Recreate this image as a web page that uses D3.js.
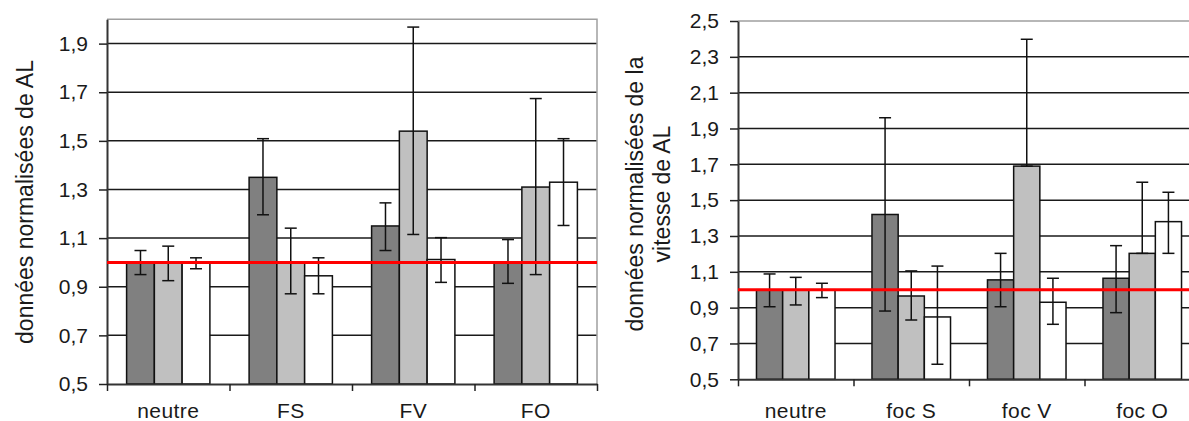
<!DOCTYPE html>
<html>
<head>
<meta charset="utf-8">
<script src="https://cdn.jsdelivr.net/npm/d3@7"></script>
<style>
    body { margin: 0; background: #fff; }
    svg { display: block; font-family: Arial, "Liberation Sans", sans-serif; }
</style>
</head>
<body>
<script>
// values (dark / light / white series)

var leftCategories = ["neutre", "FS", "FV", "FO"];
var leftDark = [1.0, 1.35, 1.15, 1.0];
var leftLight = [1.0, 1.0, 1.54, 1.31];
var leftWhite = [1.0, 0.945, 1.012, 1.33];
var leftDarkLow = [0.95, 1.196, 1.049, 0.914];
var leftDarkHigh = [1.049, 1.509, 1.245, 1.094];
var leftLightLow = [0.925, 0.871, 1.115, 0.95];
var leftLightHigh = [1.067, 1.141, 1.968, 1.674];
var leftWhiteLow = [0.974, 0.871, 0.918, 1.152];
var leftWhiteHigh = [1.019, 1.019, 1.102, 1.509];
var leftTicks = [0.5, 0.7, 0.9, 1.1, 1.3, 1.5, 1.7, 1.9];

var rightCategories = ["neutre", "foc S", "foc V", "foc O"];
var rightDark = [1.0, 1.42, 1.055, 1.064];
var rightLight = [1.0, 0.965, 1.69, 1.203];
var rightWhite = [1.0, 0.848, 0.93, 1.38];
var rightDarkLow = [0.905, 0.881, 0.905, 0.872];
var rightDarkHigh = [1.088, 1.96, 1.203, 1.246];
var rightLightLow = [0.915, 0.831, 1.69, 1.203];
var rightLightHigh = [1.069, 1.105, 2.398, 1.6];
var rightWhiteLow = [0.956, 0.584, 0.807, 1.203];
var rightWhiteHigh = [1.036, 1.132, 1.064, 1.544];
var rightTicks = [0.5, 0.7, 0.9, 1.1, 1.3, 1.5, 1.7, 1.9, 2.1, 2.3, 2.5];

var referenceValue = 1.0;
var seriesColors = ["#808080", "#c0c0c0", "#ffffff"];

var svg = d3.select("body").append("svg")
    .attr("width", 1189)
    .attr("height", 421);

var fmt = function(d) {
    return d.toFixed(1).replace(".", ",");
};

function drawChart(opt) {
    var x = d3.scaleBand()
        .domain(opt.categories)
        .range(opt.xRange);

    // inner scale for the three bars of a group
    var xs = d3.scaleBand()
        .domain(d3.range(opt.series.length))
        .range([x.bandwidth() * 0.16, x.bandwidth() * 0.84]);

    var y = d3.scaleLinear()
        .domain(opt.domain)
        .range(opt.yRange);

    var g = svg.append("g");
    var x0 = opt.xRange[0], x1 = opt.xRange[1];
    var yTop = y(opt.domain[1]), yBottom = y(opt.domain[0]);

    // gridlines
    g.selectAll(".grid")
        .data(opt.ticks.filter(function(t) { return t > opt.domain[0] && t < opt.domain[1]; }))
        .enter().append("line")
        .attr("class", "grid")
        .attr("x1", x0)
        .attr("x2", x1)
        .attr("y1", function(d) { return y(d); })
        .attr("y2", function(d) { return y(d); })
        .style("stroke", "#1a1a1a")
        .style("stroke-width", 1.5);

    // plot area border (top / right)
    g.append("path")
        .attr("d", "M" + x0 + "," + yTop + "H" + x1 + "V" + yBottom)
        .style("fill", "none")
        .style("stroke", "#a0a0a0")
        .style("stroke-width", 1.5);

    // bars
    opt.series.forEach(function(s, i) {
        g.selectAll(".bar" + i)
            .data(opt.categories)
            .enter().append("rect")
            .attr("class", "bar" + i)
            .attr("x", function(d) { return x(d) + xs(i); })
            .attr("y", function(d, j) { return y(s.values[j]); })
            .attr("width", xs.bandwidth())
            .attr("height", function(d, j) { return yBottom - y(s.values[j]); })
            .style("fill", seriesColors[i])
            .style("stroke", "#111")
            .style("stroke-width", 1.5);
    });

    // error bars
    opt.series.forEach(function(s, i) {
        var cx = function(d) { return x(d) + xs(i) + xs.bandwidth() / 2; };
        var eb = g.selectAll(".err" + i)
            .data(opt.categories)
            .enter().append("g")
            .attr("class", "err" + i)
            .style("stroke", "#111")
            .style("stroke-width", 1.5);
        eb.append("line")
            .attr("x1", cx).attr("x2", cx)
            .attr("y1", function(d, j) { return y(s.high[j]); })
            .attr("y2", function(d, j) { return y(s.low[j]); });
        eb.append("line")
            .attr("x1", function(d) { return cx(d) - 6; })
            .attr("x2", function(d) { return cx(d) + 6; })
            .attr("y1", function(d, j) { return y(s.high[j]); })
            .attr("y2", function(d, j) { return y(s.high[j]); });
        eb.append("line")
            .attr("x1", function(d) { return cx(d) - 6; })
            .attr("x2", function(d) { return cx(d) + 6; })
            .attr("y1", function(d, j) { return y(s.low[j]); })
            .attr("y2", function(d, j) { return y(s.low[j]); });
    });

    // y axis
    var yAxis = g.append("g")
        .attr("transform", "translate(" + x0 + ",0)")
        .call(d3.axisLeft(y)
            .tickValues(opt.ticks)
            .tickSize(8)
            .tickSizeOuter(0)
            .tickPadding(11)
            .tickFormat(fmt));
    yAxis.select(".domain").style("stroke", "#333").style("stroke-width", 2);
    yAxis.selectAll(".tick line").style("stroke", "#222").style("stroke-width", 1.5);
    yAxis.selectAll("text")
        .style("font-size", "21px")
        .style("font-family", "Arial, 'Liberation Sans', sans-serif")
        .style("fill", "#1a1a1a");

    // x axis: ticks between the groups
    var xb = d3.scaleLinear()
        .domain([0, opt.categories.length])
        .range(opt.xRange);
    var xAxis = g.append("g")
        .attr("transform", "translate(0," + yBottom + ")")
        .call(d3.axisBottom(xb)
            .tickValues(d3.range(opt.categories.length + 1))
            .tickSize(7)
            .tickSizeOuter(0)
            .tickFormat(""));
    xAxis.select(".domain").style("stroke", "#333").style("stroke-width", 2);
    xAxis.selectAll(".tick line").style("stroke", "#222").style("stroke-width", 1.5);

    g.selectAll(".xlabel")
        .data(opt.categories)
        .enter().append("text")
        .attr("class", "xlabel")
        .attr("x", function(d) { return x(d) + x.bandwidth() / 2; })
        .attr("y", 418)
        .style("text-anchor", "middle")
        .style("font-size", "21px")
        .style("letter-spacing", "0.4px")
        .style("fill", "#1a1a1a")
        .text(function(d) { return d; });

    // reference line at 1
    g.append("line")
        .attr("x1", x0)
        .attr("x2", x1)
        .attr("y1", y(referenceValue))
        .attr("y2", y(referenceValue))
        .style("stroke", "#ff0000")
        .style("stroke-width", 3);

    // y title, one or more lines
    opt.title.forEach(function(line, k) {
        g.append("text")
            .attr("transform", "translate(" + opt.titleX[k] + "," + opt.titleY + ") rotate(-90)")
            .style("text-anchor", "middle")
            .style("font-size", "23px")
            .style("fill", "#1a1a1a")
            .text(line);
    });
}

drawChart({
    categories: leftCategories,
    series: [
        { values: leftDark, low: leftDarkLow, high: leftDarkHigh },
        { values: leftLight, low: leftLightLow, high: leftLightHigh },
        { values: leftWhite, low: leftWhiteLow, high: leftWhiteHigh }
    ],
    ticks: leftTicks,
    domain: [0.5, 2.0],
    xRange: [107, 597],
    yRange: [384, 19.3],
    title: ["données normalisées de AL"],
    titleX: [33],
    titleY: 202
});

drawChart({
    categories: rightCategories,
    series: [
        { values: rightDark, low: rightDarkLow, high: rightDarkHigh },
        { values: rightLight, low: rightLightLow, high: rightLightHigh },
        { values: rightWhite, low: rightWhiteLow, high: rightWhiteHigh }
    ],
    ticks: rightTicks,
    domain: [0.5, 2.5],
    xRange: [738, 1200],
    yRange: [379.3, 21],
    title: ["données normalisées de la", "vitesse de AL"],
    titleX: [643, 670],
    titleY: 194
});
</script>
</body>
</html>
